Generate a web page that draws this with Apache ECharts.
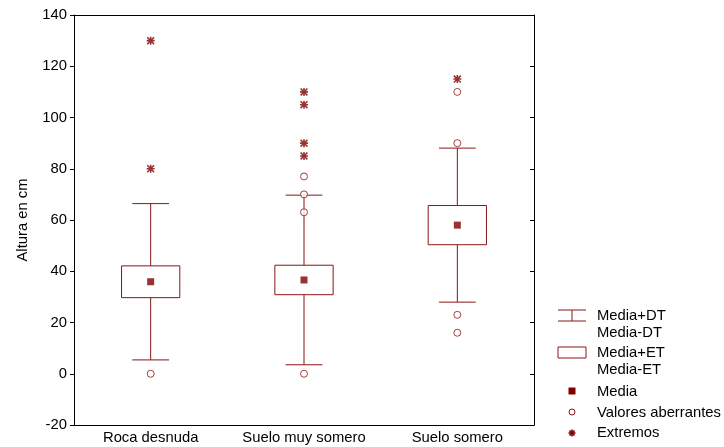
<!DOCTYPE html>
<html>
<head>
<meta charset="utf-8">
<script src="https://cdn.jsdelivr.net/npm/echarts@6/dist/echarts.min.js"></script>
<style>
  html, body { margin: 0; padding: 0; background: #fff; }
  #chart { width: 724px; height: 447px; }
</style>
</head>
<body>
<div id="chart"></div>
<script>
// Plant height by soil class: mean, SD whiskers, SE boxes, outliers and extremes
const categories = ['Roca desnuda', 'Suelo muy somero', 'Suelo somero'];
const means = [35.9, 36.6, 58.0];
const stdDevs = [30.5, 33.1, 30.05];
const stdErrs = [6.2, 5.75, 7.65];
const outlierValues = [[0], [0, 63, 70, 77], [16, 23, 90, 110]];
const extremeValues = [[80, 130], [85, 90, 105, 110], [115]];
const yTicks = { min: -20, max: 140, step: 20 };

const RED = '#8b1414';
const FONT = 'Liberation Sans, Arial, sans-serif';
const FS = 14.8;
const ASTERISK = 'path://M0,4.0L10,4.0L10,6.0L0,6.0Z M4.0,0L6.0,0L6.0,10L4.0,10Z M1.4,0L10,8.6L8.6,10L0,1.4Z M8.6,0L10,1.4L1.4,10L0,8.6Z';

const whiskerData = categories.map((c, i) => [i, means[i] - stdDevs[i], means[i] + stdDevs[i]]);
const boxData = categories.map((c, i) => [i, means[i] - stdErrs[i], means[i] + stdErrs[i]]);
const meanData = categories.map((c, i) => [i, means[i]]);
const outlierData = [];
outlierValues.forEach((vals, i) => vals.forEach(v => outlierData.push([i, v])));
const extremeData = [];
extremeValues.forEach((vals, i) => vals.forEach(v => extremeData.push([i, v])));

const chart = echarts.init(document.getElementById('chart'), null, { renderer: 'canvas' });

const lineStyle = { stroke: RED, lineWidth: 1 };

function keyText(text, y) {
  return {
    type: 'text', x: 597, y: y,
    style: { text: text, fill: '#000', font: FS + 'px ' + FONT, verticalAlign: 'middle', textVerticalAlign: 'middle' }
  };
}

// small asterisk for the key, built from four strokes
function keyAsterisk(cx, cy, r) {
  const d = r * 0.72;
  const st = { stroke: '#800000', lineWidth: 1.6 };
  return [
    { type: 'line', shape: { x1: cx - r, y1: cy, x2: cx + r, y2: cy }, style: st },
    { type: 'line', shape: { x1: cx, y1: cy - r, x2: cx, y2: cy + r }, style: st },
    { type: 'line', shape: { x1: cx - d, y1: cy - d, x2: cx + d, y2: cy + d }, style: st },
    { type: 'line', shape: { x1: cx - d, y1: cy + d, x2: cx + d, y2: cy - d }, style: st }
  ];
}

const frameAxisLine = { onZero: false, lineStyle: { color: '#000', width: 1 } };

const option = {
  animation: false,
  backgroundColor: '#fff',
  textStyle: { fontFamily: FONT },
  grid: { left: 74, right: 190, top: 15, bottom: 22 },
  xAxis: [
    {
      type: 'category', data: categories, position: 'bottom',
      axisLine: frameAxisLine,
      axisTick: { inside: true, length: 4, lineStyle: { color: '#000' } },
      axisLabel: { color: '#000', fontSize: FS, fontFamily: FONT, margin: 5, interval: 0, hideOverlap: false },
      splitLine: { show: false }
    },
    {
      type: 'category', data: categories, position: 'top',
      axisLine: frameAxisLine,
      axisTick: { inside: true, length: 4, lineStyle: { color: '#000' } },
      axisLabel: { show: false },
      splitLine: { show: false }
    }
  ],
  yAxis: [
    {
      type: 'value', min: yTicks.min, max: yTicks.max, interval: yTicks.step,
      name: 'Altura en cm', nameLocation: 'middle', nameGap: 44,
      nameTextStyle: { color: '#000', fontSize: FS, fontFamily: FONT },
      axisLine: { show: true, onZero: false, lineStyle: { color: '#000', width: 1 } },
      axisTick: { show: true, inside: false, length: 4, lineStyle: { color: '#000' } },
      axisLabel: { color: '#000', fontSize: FS, fontFamily: FONT, margin: 7 },
      splitLine: { show: false }
    },
    {
      type: 'value', min: yTicks.min, max: yTicks.max, interval: yTicks.step, position: 'right',
      axisLine: { show: true, onZero: false, lineStyle: { color: '#000', width: 1 } },
      axisTick: { show: true, inside: true, length: 4, lineStyle: { color: '#000' } },
      axisLabel: { show: false },
      splitLine: { show: false }
    }
  ],
  series: [
    {
      // mean ± SD whiskers with caps
      type: 'custom', name: 'Media±DT', data: whiskerData, z: 2,
      renderItem: (params, api) => {
        const x = api.value(0);
        const lo = api.coord([x, api.value(1)]);
        const hi = api.coord([x, api.value(2)]);
        const half = api.size([1, 0])[0] * 0.12;
        return {
          type: 'group',
          children: [
            { type: 'line', shape: { x1: lo[0], y1: lo[1], x2: hi[0], y2: hi[1] }, style: lineStyle },
            { type: 'line', shape: { x1: hi[0] - half, y1: hi[1], x2: hi[0] + half, y2: hi[1] }, style: lineStyle },
            { type: 'line', shape: { x1: lo[0] - half, y1: lo[1], x2: lo[0] + half, y2: lo[1] }, style: lineStyle }
          ]
        };
      }
    },
    {
      // mean ± SE boxes
      type: 'custom', name: 'Media±ET', data: boxData, z: 3,
      renderItem: (params, api) => {
        const x = api.value(0);
        const lo = api.coord([x, api.value(1)]);
        const hi = api.coord([x, api.value(2)]);
        const w = api.size([1, 0])[0] * 0.38;
        return {
          type: 'rect',
          shape: { x: lo[0] - w / 2, y: hi[1], width: w, height: lo[1] - hi[1] },
          style: { fill: '#fff', stroke: RED, lineWidth: 1 }
        };
      }
    },
    {
      type: 'scatter', name: 'Media', data: meanData, z: 4,
      symbol: 'rect', symbolSize: 7,
      itemStyle: { color: '#800000' }
    },
    {
      type: 'scatter', name: 'Valores aberrantes', data: outlierData, z: 4,
      symbol: 'circle', symbolSize: 7,
      itemStyle: { color: '#fff', borderColor: RED, borderWidth: 1 }
    },
    {
      type: 'scatter', name: 'Extremos', data: extremeData, z: 4,
      symbol: ASTERISK, symbolSize: 8,
      itemStyle: { color: '#800000' }
    }
  ],
  graphic: [
    { type: 'line', shape: { x1: 558, y1: 310, x2: 586, y2: 310 }, style: lineStyle },
    { type: 'line', shape: { x1: 558, y1: 321, x2: 586, y2: 321 }, style: lineStyle },
    { type: 'line', shape: { x1: 572, y1: 310, x2: 572, y2: 321 }, style: lineStyle },
    keyText('Media+DT', 316),
    keyText('Media-DT', 333),
    { type: 'rect', shape: { x: 558, y: 347, width: 28, height: 11 }, style: { fill: '#fff', stroke: RED, lineWidth: 1 } },
    keyText('Media+ET', 353),
    keyText('Media-ET', 370),
    { type: 'rect', shape: { x: 568.5, y: 387.5, width: 7, height: 7 }, style: { fill: '#800000' } },
    keyText('Media', 391.5),
    { type: 'circle', shape: { cx: 572, cy: 412, r: 3 }, style: { fill: '#fff', stroke: RED, lineWidth: 1 } },
    keyText('Valores aberrantes', 412.5),
    keyText('Extremos', 433)
  ].concat(keyAsterisk(572, 433, 3.5))
};

chart.setOption(option);
</script>
</body>
</html>
